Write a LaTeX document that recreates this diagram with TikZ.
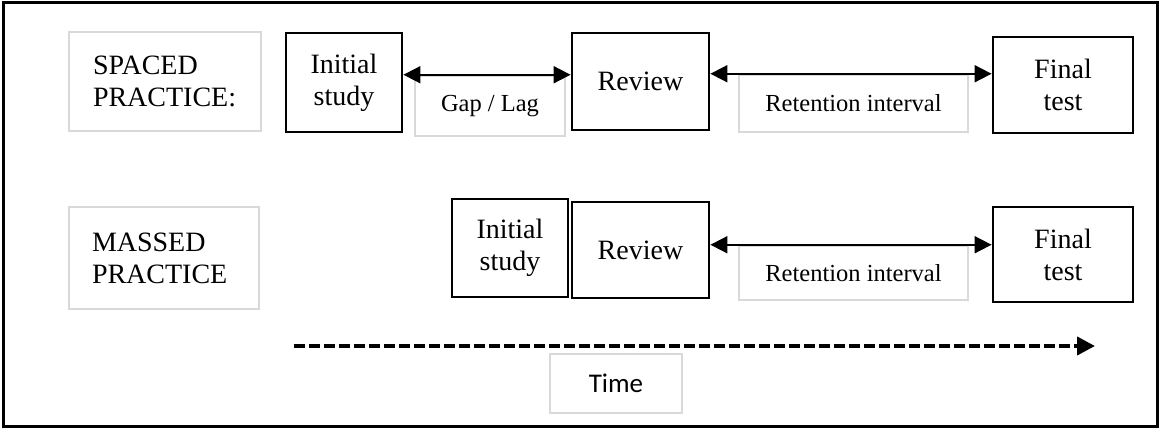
\documentclass[tikz,border=0pt]{standalone}
\usepackage{fontspec}
\setmainfont{Liberation Serif}
\newfontfamily\timefont{Carlito}
\usetikzlibrary{arrows.meta}
\definecolor{boxgrey}{RGB}{217,217,217}

\begin{document}
\begin{tikzpicture}[x=1pt,y=-1pt]
        % Styles
        \tikzstyle{stage box}=[draw=black,line width=2.8pt,align=center,inner sep=0pt,font=\fontsize{28}{32}\selectfont]
        \tikzstyle{label box}=[draw=boxgrey,line width=2.5pt,inner sep=0pt,font=\fontsize{24.5}{29}\selectfont]
        \tikzstyle{row label}=[label box,align=left,text width=144pt,font=\fontsize{28}{32}\selectfont]
        \tikzstyle{interval}=[line width=1.8pt,{Triangle[length=17pt,width=17pt]}-{Triangle[length=17pt,width=17pt]}]
        \tikzstyle{time line}=[line width=4pt,dash pattern=on 11pt off 4pt,-{Triangle[length=18pt,width=18pt]}]
        %The graphic
        \useasboundingbox (0,0) rectangle (1160,428);
        \draw[line width=3pt] (3,3) rectangle (1157,426);
        %spaced row
        \node[row label,minimum width=192pt,minimum height=99pt] (spaced) at (165,81.5) {SPACED\\PRACTICE:};
        \node[stage box,minimum width=116pt,minimum height=99pt] (ini1) at (344,82.5) {Initial\\study};
        \node[stage box,minimum width=137pt,minimum height=97pt] (rev1) at (640.5,81.5) {Review};
        \node[stage box,minimum width=140pt,minimum height=96pt] (fin1) at (1063,85) {Final\\test};
        \node[label box,minimum width=150pt,minimum height=60pt] (gap1) at (490,106) {Gap / Lag};
        \node[label box,minimum width=229pt,minimum height=57pt] (ret1) at (853.5,103.5) {Retention interval};
        \draw[interval] (ini1.east |- gap1.north) -- (rev1.west |- gap1.north);
        \draw[interval] (rev1.east |- ret1.north) -- (fin1.west |- ret1.north);
        %massed row
        \node[row label,minimum width=190pt,minimum height=102pt] (massed) at (164,258) {MASSED\\PRACTICE};
        \node[stage box,minimum width=116pt,minimum height=98pt] (ini2) at (510,248) {Initial\\study};
        \node[stage box,minimum width=137pt,minimum height=96pt] (rev2) at (640.5,250) {Review};
        \node[stage box,minimum width=140pt,minimum height=95pt] (fin2) at (1063,254.5) {Final\\test};
        \node[label box,minimum width=229pt,minimum height=54pt] (ret2) at (853.5,273) {Retention interval};
        \draw[interval] (rev2.east |- ret2.north) -- (fin2.west |- ret2.north);
        %time axis
        \node[label box,minimum width=132pt,minimum height=59pt,font=\timefont\fontsize{27}{32}\selectfont] (time) at (616,383.5) {Time};
        \coordinate (t0) at (294,346);
        \coordinate (t1) at (1095,346);
        \draw[time line] (t0) -- (t1);
\end{tikzpicture}
\end{document}
